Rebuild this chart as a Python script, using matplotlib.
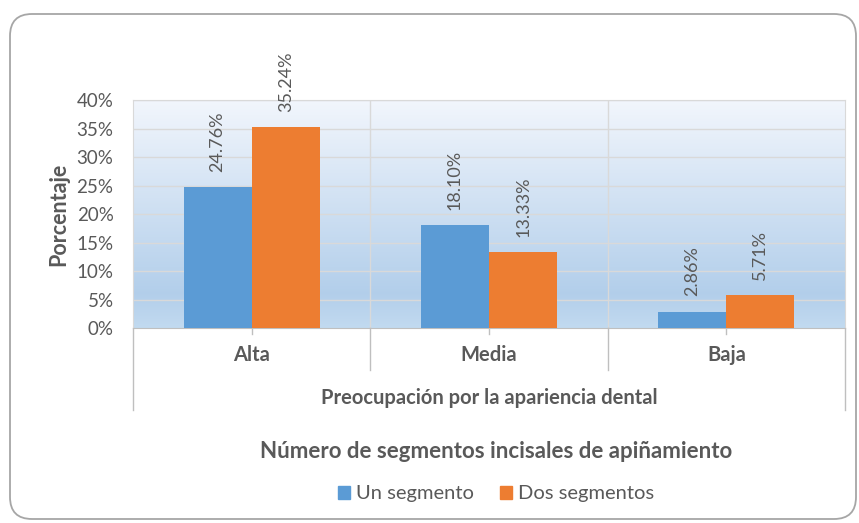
import numpy as np
import matplotlib
matplotlib.use("Agg")
import matplotlib.pyplot as plt
from matplotlib.patches import FancyBboxPatch, Patch
from matplotlib.transforms import IdentityTransform, blended_transform_factory

# datos
categorias = ["Alta", "Media", "Baja"]
un_segmento = [24.76, 18.10, 2.86]
dos_segmentos = [35.24, 13.33, 5.71]
etiquetas_y = ["0%", "5%", "10%", "15%", "20%", "25%", "30%", "35%", "40%"]

azul = "#5b9bd5"
naranja = "#ed7d31"
gris = "#595959"

plt.rcParams["font.family"] = ["Lato", "DejaVu Sans"]

fig = plt.figure(figsize=(8.59, 5.23), dpi=100)

# marco redondeado
marco = FancyBboxPatch((10, 4), 846, 505, boxstyle="round,pad=0,rounding_size=22",
                       transform=IdentityTransform(), facecolor="none",
                       edgecolor="#a6a6a6", linewidth=1.3, zorder=-1)
fig.patches.append(marco)

ax = fig.add_axes([0.1548, 0.3728, 0.8289, 0.436])

# fondo degradado (arriba claro, abajo azul)
t = np.linspace(0, 1, 256)
paradas = [0, 0.85, 1.0]
cols = np.array([[0.95, 0.965, 0.99], [0.70, 0.81, 0.92], [0.76, 0.855, 0.94]])
img = np.stack([np.interp(t, paradas, cols[:, k]) for k in range(3)], axis=-1)
img = img.reshape(256, 1, 3)
ax.imshow(img, extent=[0, 1, 0, 1], transform=ax.transAxes, aspect="auto", zorder=0)
ax.set_xlim(-0.5, 2.5)
ax.set_ylim(0, 40)

x = np.arange(len(categorias))
w = 0.287
b1 = ax.bar(x - w / 2, un_segmento, w, color=azul, zorder=3)
b2 = ax.bar(x + w / 2, dos_segmentos, w, color=naranja, zorder=3)

for barras, vals in [(b1, un_segmento), (b2, dos_segmentos)]:
    for r, v in zip(barras, vals):
        ax.annotate(f"{v:.2f}%", (r.get_x() + r.get_width() / 2, v),
                    xytext=(0, 11), textcoords="offset points", rotation=90,
                    ha="center", va="bottom", fontsize=13, color=gris,
                    annotation_clip=False)

# rejilla
for yv in range(5, 45, 5):
    ax.axhline(yv, color="#d9d9d9", lw=1, zorder=1)
for xv in [0.5, 1.5]:
    ax.axvline(xv, color="#d9d9d9", lw=1, zorder=1)

for s in ["left", "right", "top"]:
    ax.spines[s].set_color("#d9d9d9")
ax.spines["bottom"].set_color("#bfbfbf")

ax.set_yticks(range(0, 45, 5))
ax.set_yticklabels(etiquetas_y, fontsize=13.5, color=gris)
ax.tick_params(axis="y", length=0, pad=14)
ax.set_xticks([])
ax.set_ylabel("Porcentaje", fontsize=15.5, fontweight="bold", color=gris)
ax.yaxis.set_label_coords(-0.09, 0.50)

# ejes de categorias multinivel
tr = blended_transform_factory(ax.transData, ax.transAxes)
px = 1 / (0.436 * 523)
for xv in x:
    ax.plot([xv, xv], [0, -6 * px], color="#bfbfbf", lw=1, transform=tr, clip_on=False)
    ax.text(xv, -27 * px, categorias[xv], transform=tr, ha="center", va="center",
            fontsize=14.5, fontweight="bold", color=gris)
for xv in [0.5, 1.5]:
    ax.plot([xv, xv], [0, -42 * px], color="#bfbfbf", lw=1, transform=tr, clip_on=False)
for xv in [-0.5, 2.5]:
    ax.plot([xv, xv], [0, -82 * px], color="#bfbfbf", lw=1, transform=tr, clip_on=False)
ax.text(1, -70 * px, "Preocupación por la apariencia dental", transform=tr,
        ha="center", va="center", fontsize=14.5, fontweight="bold", color=gris)

fig.text(496 / 859, 1 - 452 / 523, "Número de segmentos incisales de apiñamiento",
         ha="center", va="center", fontsize=16, fontweight="bold", color=gris)

fig.legend(handles=[Patch(color=azul, label="Un segmento"),
                    Patch(color=naranja, label="Dos segmentos")],
           loc="center", bbox_to_anchor=(496 / 859, 1 - 494 / 523), ncol=2,
           frameon=False, fontsize=14.5, labelcolor=gris, handlelength=0.6,
           handleheight=0.6, handletextpad=0.3, columnspacing=1.3)

fig.savefig("out.png", dpi=100)
